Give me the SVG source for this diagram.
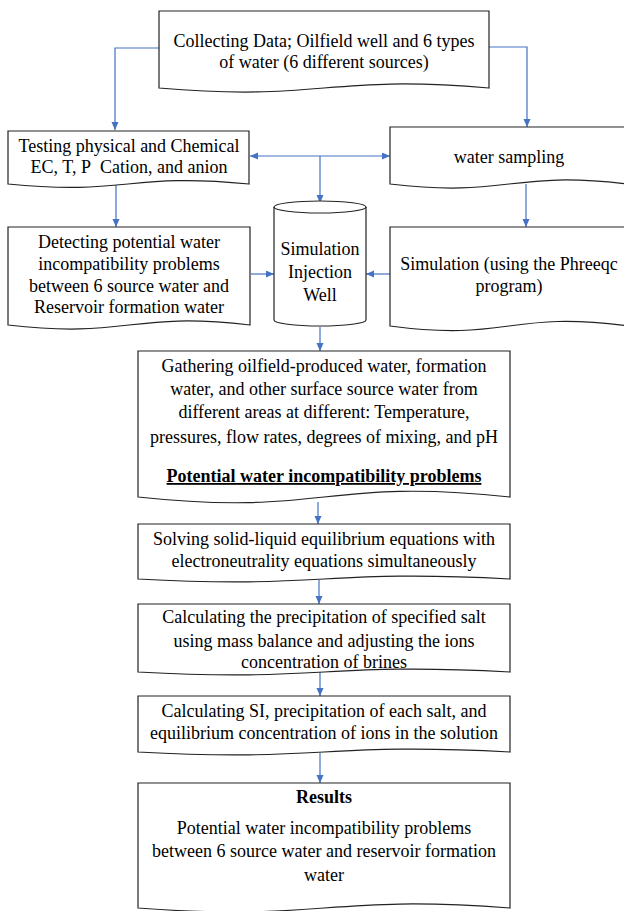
<svg xmlns="http://www.w3.org/2000/svg" width="624" height="911" viewBox="0 0 624 911">
<style>
.box{fill:#fff;stroke:#222;stroke-width:1.2}
.t{font-family:"Liberation Serif","Times New Roman",serif;font-size:18px;fill:#000;text-anchor:middle}
.b{font-weight:bold}
.c{fill:none;stroke:#4472C4;stroke-width:1.2}
</style>
<defs>
<marker id="ah" markerUnits="userSpaceOnUse" markerWidth="9" markerHeight="8" refX="8" refY="3.5" orient="auto-start-reverse">
<path d="M0,0 L8,3.5 L0,7 Z" fill="#4472C4"/>
</marker>
</defs>
<rect width="624" height="911" fill="#fff"/>

<g id="connectors">
<path class="c" d="M159,48 H115 V130" marker-end="url(#ah)"/>
<path class="c" d="M489,47 H527 V127" marker-end="url(#ah)"/>
<path class="c" d="M250,156 H390" marker-start="url(#ah)" marker-end="url(#ah)"/>
<path class="c" d="M320,156 V203" marker-end="url(#ah)"/>
<path class="c" d="M116,185 V227" marker-end="url(#ah)"/>
<path class="c" d="M526,184 V227" marker-end="url(#ah)"/>
<path class="c" d="M251,274 H274" marker-end="url(#ah)"/>
<path class="c" d="M390,274 H366" marker-end="url(#ah)"/>
<path class="c" d="M320,327 V351" marker-end="url(#ah)"/>
<path class="c" d="M318,502 V524" marker-end="url(#ah)"/>
<path class="c" d="M319,580 V604" marker-end="url(#ah)"/>
<path class="c" d="M320,672 V696" marker-end="url(#ah)"/>
<path class="c" d="M320,753 V783" marker-end="url(#ah)"/>
</g>

<g id="collecting">
<path class="box" d="M159,11 H489 V88 C324,74 324,102 159,88 Z"/>
<text class="t" x="324" y="47">Collecting Data; Oilfield well and 6 types</text>
<text class="t" x="324" y="68">of water (6 different sources)</text>
</g>

<g id="testing">
<path class="box" d="M8,131 H249 V184 C128,172 128,196 8,184 Z"/>
<text class="t" x="129" y="152">Testing physical and Chemical</text>
<text class="t" x="129" y="173">EC, T, P&#160; Cation, and anion</text>
</g>

<g id="sampling">
<path class="box" d="M390,127 H628 V184 C509,170 509,198 390,184 Z"/>
<text class="t" x="509" y="163">water sampling</text>
</g>

<g id="detecting">
<path class="box" d="M8,227 H250 V325 C129,311 129,339 8,325 Z"/>
<text class="t" x="129" y="248">Detecting potential water</text>
<text class="t" x="129" y="270">incompatibility problems</text>
<text class="t" x="129" y="292">between 6 source water and</text>
<text class="t" x="129" y="313">Reservoir formation water</text>
</g>

<g id="well">
<path class="box" d="M274,207 V320 A46,6 0 0,0 366,320 V207"/>
<ellipse class="box" cx="320" cy="207" rx="46" ry="6"/>
<text class="t" x="320" y="255">Simulation</text>
<text class="t" x="320" y="278">Injection</text>
<text class="t" x="320" y="301">Well</text>
</g>

<g id="phreeqc">
<path class="box" d="M390,227 H628 V326 C509,310 509,342 390,326 Z"/>
<text class="t" x="509" y="270">Simulation (using the Phreeqc</text>
<text class="t" x="509" y="292">program)</text>
</g>

<g id="gathering">
<path class="box" d="M138,351 H510 V497 C324,477 324,517 138,497 Z"/>
<text class="t" x="324" y="372">Gathering oilfield-produced water, formation</text>
<text class="t" x="324" y="395">water, and other surface source water from</text>
<text class="t" x="324" y="418">different areas at different: Temperature,</text>
<text class="t" x="324" y="443">pressures, flow rates, degrees of mixing, and pH</text>
<text class="t b" x="324" y="482" text-decoration="underline">Potential water incompatibility problems</text>
</g>

<g id="solving">
<path class="box" d="M138,524 H510 V579 C324,569 324,589 138,579 Z"/>
<text class="t" x="324" y="545">Solving solid-liquid equilibrium equations with</text>
<text class="t" x="324" y="567">electroneutrality equations simultaneously</text>
</g>

<g id="precipitation">
<path class="box" d="M138,604 H510 V672 C324,662 324,682 138,672 Z"/>
<text class="t" x="324" y="623">Calculating the precipitation of specified salt</text>
<text class="t" x="324" y="647">using mass balance and adjusting the ions</text>
<text class="t" x="324" y="668">concentration of brines</text>
</g>

<g id="si">
<path class="box" d="M138,696 H510 V752 C324,742 324,762 138,752 Z"/>
<text class="t" x="324" y="717">Calculating SI, precipitation of each salt, and</text>
<text class="t" x="324" y="739">equilibrium concentration of ions in the solution</text>
</g>

<g id="results">
<path class="box" d="M138,783 H510 V908 C324,894 324,922 138,908 Z"/>
<text class="t b" x="324" y="803">Results</text>
<text class="t" x="324" y="834">Potential water incompatibility problems</text>
<text class="t" x="324" y="857">between 6 source water and reservoir formation</text>
<text class="t" x="324" y="881">water</text>
</g>
</svg>
